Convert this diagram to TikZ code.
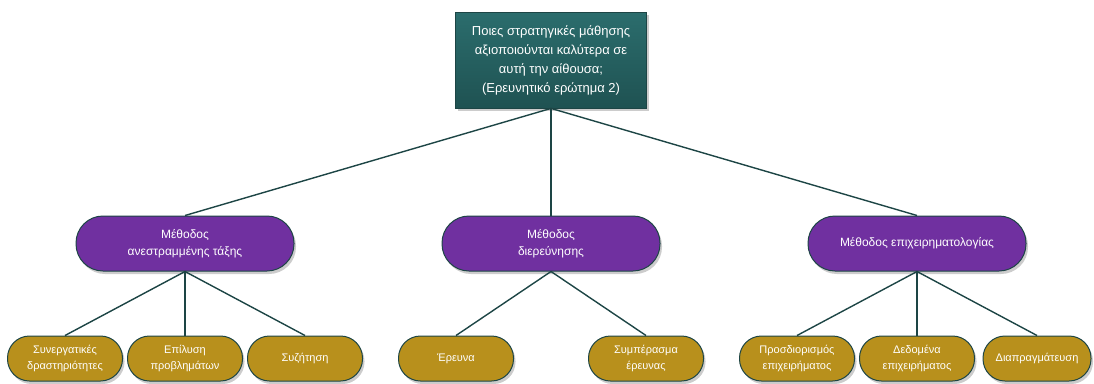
\documentclass[tikz,border=0pt]{standalone}
\usepackage{fontspec}
\setmainfont{Liberation Sans}
\usetikzlibrary{trees,shadows}
\definecolor{qtop}{HTML}{2B6D6D}
\definecolor{qbot}{HTML}{1F5252}
\definecolor{methodfill}{HTML}{7030A0}
\definecolor{stratfill}{HTML}{B8901C}
\definecolor{linecol}{HTML}{1D4545}

\begin{document}
\begin{tikzpicture}[
  level 1/.style = {level distance = 183.5pt, sibling distance = 366pt},
  level 2/.style = {level distance = 115pt, sibling distance = 120pt},
  edge from parent/.style = {draw = linecol, line width = 1.4pt},
  edge from parent path = {(\tikzparentnode.south) -- (\tikzchildnode.north)},
  question/.style = {shape = rectangle, draw = linecol, line width = 0.8pt, top color = qtop, bottom color = qbot, text = white, minimum width = 191pt, minimum height = 96pt, align = center, font = \fontsize{13}{19}\selectfont, drop shadow = {opacity = 0.4, shadow xshift = 2pt, shadow yshift = -3pt}},
  method/.style = {shape = rectangle, rounded corners = 27pt, draw = linecol, line width = 1pt, fill = methodfill, text = white, minimum width = 218pt, minimum height = 55pt, align = center, font = \fontsize{12}{17}\selectfont, drop shadow = {opacity = 0.4, shadow xshift = 2pt, shadow yshift = -3pt}},
  strategy/.style = {shape = rectangle, rounded corners = 22pt, draw = linecol, line width = 1pt, fill = stratfill, text = white, minimum width = 115pt, minimum height = 45pt, align = center, font = \fontsize{11}{16}\selectfont, drop shadow = {opacity = 0.4, shadow xshift = 2pt, shadow yshift = -3pt}}
]
\useasboundingbox (0,0) rectangle (1094pt,-383pt);
\node[question] (0) at (551pt,-60pt) {Ποιες στρατηγικές μάθησης\\αξιοποιούνται καλύτερα σε\\αυτή την αίθουσα;\\(Ερευνητικό ερώτημα 2)}
child {node[method] (1) {Μέθοδος\\ανεστραμμένης τάξης}
  child {node[strategy] (11) {Συνεργατικές\\δραστηριότητες}}
  child {node[strategy] (12) {Επίλυση\\προβλημάτων}}
  child {node[strategy] (13) {Συζήτηση}}
}
child {node[method] (2) {Μέθοδος\\διερεύνησης}
  child[sibling distance = 190pt] {node[strategy] (21) {Έρευνα}}
  child[sibling distance = 190pt] {node[strategy] (22) {Συμπέρασμα\\έρευνας}}
}
child {node[method] (3) {Μέθοδος επιχειρηματολογίας}
  child {node[strategy] (31) {Προσδιορισμός\\επιχειρήματος}}
  child {node[strategy] (32) {Δεδομένα\\επιχειρήματος}}
  child {node[strategy, minimum width = 108pt] (33) {Διαπραγμάτευση}}
};
\end{tikzpicture}
\end{document}
